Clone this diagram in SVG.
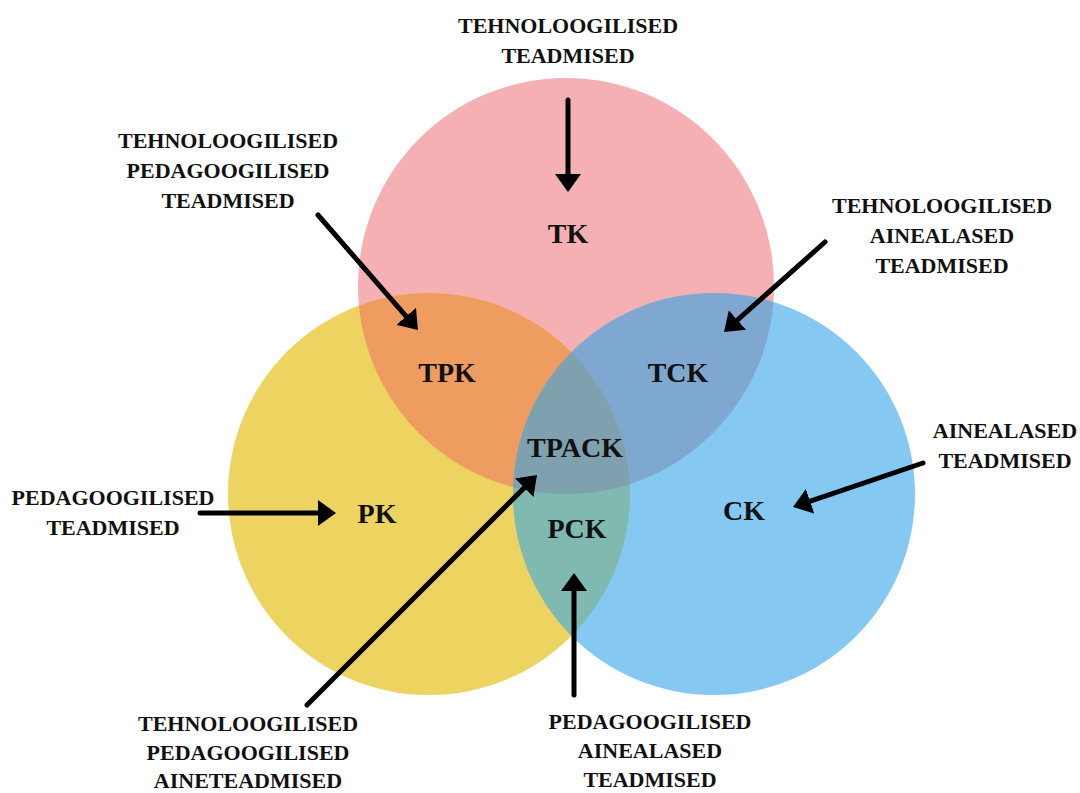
<svg xmlns="http://www.w3.org/2000/svg" width="1080" height="793" viewBox="0 0 1080 793">
  <style>
    .lbl { font-family: "Liberation Serif", "Times New Roman", serif; font-weight: bold; font-size: 22px; fill: #111; text-anchor: middle; }
    .big { font-family: "Liberation Serif", "Times New Roman", serif; font-weight: bold; font-size: 28px; fill: #111; text-anchor: middle; }
    .arr { stroke: #000; stroke-width: 5; stroke-linecap: round; fill: none; marker-end: url(#head); }
  </style>
  <defs>
    <marker id="head" markerUnits="userSpaceOnUse" viewBox="0 0 18 26" markerWidth="18" markerHeight="26" refX="6" refY="13" orient="auto">
      <path d="M0,0 L18,13 L0,26 Z" fill="#000"/>
    </marker>
    <clipPath id="clipT"><circle cx="566" cy="286" r="208"/></clipPath>
    <clipPath id="clipP"><circle cx="429" cy="494" r="201"/></clipPath>
    <clipPath id="clipC"><circle cx="714" cy="494" r="201"/></clipPath>
  </defs>
  <rect width="1080" height="793" fill="#fff"/>

  <g id="circles">
    <circle id="TK-circle" cx="566" cy="286" r="208" fill="#F4B0B2"/>
    <circle id="PK-circle" cx="429" cy="494" r="201" fill="#EDD461"/>
    <circle id="CK-circle" cx="714" cy="494" r="201" fill="#85C9F3"/>
    <circle cx="429" cy="494" r="201" fill="#EE9C60" clip-path="url(#clipT)"/>
    <circle cx="714" cy="494" r="201" fill="#7FA8D0" clip-path="url(#clipT)"/>
    <circle cx="714" cy="494" r="201" fill="#7FB9B0" clip-path="url(#clipP)"/>
    <g clip-path="url(#clipT)">
      <circle cx="714" cy="494" r="201" fill="#7FA1AF" clip-path="url(#clipP)"/>
    </g>
  </g>

  <g id="connectors">
    <line class="arr" x1="568" y1="100" x2="568" y2="180"/>
    <line class="arr" x1="318" y1="215" x2="410.1" y2="320.9"/>
    <line class="arr" x1="825" y1="242" x2="733" y2="324"/>
    <line class="arr" x1="923" y1="463" x2="804.4" y2="503.1"/>
    <line class="arr" x1="200" y1="513" x2="324" y2="513"/>
    <line class="arr" x1="307" y1="705" x2="528.5" y2="483.5"/>
    <line class="arr" x1="574" y1="695" x2="574" y2="585"/>
  </g>

  <g id="TK"><text class="big" x="568" y="243">TK</text></g>
  <g id="TPK"><text class="big" x="447" y="382">TPK</text></g>
  <g id="TCK"><text class="big" x="678" y="382">TCK</text></g>
  <g id="TPACK"><text class="big" x="575" y="457">TPACK</text></g>
  <g id="PK"><text class="big" x="377" y="523">PK</text></g>
  <g id="PCK"><text class="big" x="577" y="538">PCK</text></g>
  <g id="CK"><text class="big" x="744" y="520">CK</text></g>

  <g id="label-TK">
    <text class="lbl" x="568" y="33">TEHNOLOOGILISED</text>
    <text class="lbl" x="568" y="63">TEADMISED</text>
  </g>
  <g id="label-TPK">
    <text class="lbl" x="228" y="148">TEHNOLOOGILISED</text>
    <text class="lbl" x="228" y="178">PEDAGOOGILISED</text>
    <text class="lbl" x="228" y="208">TEADMISED</text>
  </g>
  <g id="label-TCK">
    <text class="lbl" x="942" y="213">TEHNOLOOGILISED</text>
    <text class="lbl" x="942" y="243">AINEALASED</text>
    <text class="lbl" x="942" y="273">TEADMISED</text>
  </g>
  <g id="label-CK">
    <text class="lbl" x="1005" y="438">AINEALASED</text>
    <text class="lbl" x="1005" y="468">TEADMISED</text>
  </g>
  <g id="label-PK">
    <text class="lbl" x="113" y="505">PEDAGOOGILISED</text>
    <text class="lbl" x="113" y="535">TEADMISED</text>
  </g>
  <g id="label-TPACK">
    <text class="lbl" x="248" y="731">TEHNOLOOGILISED</text>
    <text class="lbl" x="248" y="760">PEDAGOOGILISED</text>
    <text class="lbl" x="248" y="788">AINETEADMISED</text>
  </g>
  <g id="label-PCK">
    <text class="lbl" x="650" y="729">PEDAGOOGILISED</text>
    <text class="lbl" x="650" y="758">AINEALASED</text>
    <text class="lbl" x="650" y="787">TEADMISED</text>
  </g>
</svg>
